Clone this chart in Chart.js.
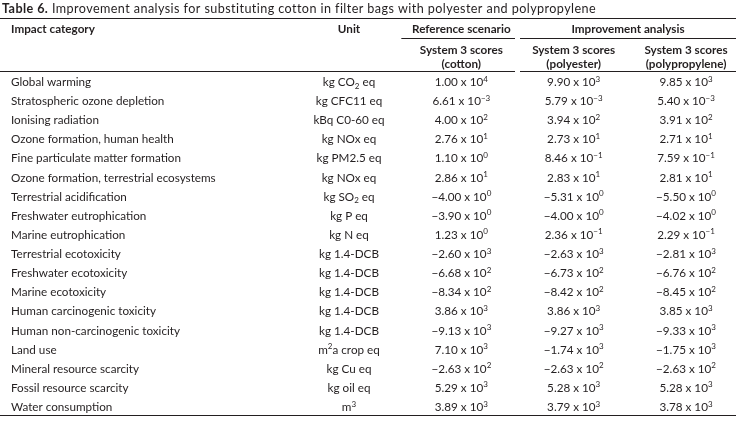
<!DOCTYPE html>
<html>
<head>
<meta charset="utf-8">
<script src="https://cdn.jsdelivr.net/npm/chart.js@4/dist/chart.umd.min.js"></script>
<style>
  html, body { margin: 0; padding: 0; background: #ffffff; }
  #wrap { width: 736px; height: 424px; position: relative; }
</style>
</head>
<body>
<div id="wrap"><canvas id="c" width="736" height="424"></canvas></div>
<script>
// ---------- DATA ----------
const titleBold = "Table 6.";
const titleText = " Improvement analysis for substituting cotton in filter bags with polyester and polypropylene";

const categories = [
  "Global warming",
  "Stratospheric ozone depletion",
  "Ionising radiation",
  "Ozone formation, human health",
  "Fine particulate matter formation",
  "Ozone formation, terrestrial ecosystems",
  "Terrestrial acidification",
  "Freshwater eutrophication",
  "Marine eutrophication",
  "Terrestrial ecotoxicity",
  "Freshwater ecotoxicity",
  "Marine ecotoxicity",
  "Human carcinogenic toxicity",
  "Human non-carcinogenic toxicity",
  "Land use",
  "Mineral resource scarcity",
  "Fossil resource scarcity",
  "Water consumption"
];

const units = [
  "kg CO_{2} eq",
  "kg CFC11 eq",
  "kBq C0-60 eq",
  "kg NOx eq",
  "kg PM2.5 eq",
  "kg NOx eq",
  "kg SO_{2} eq",
  "kg P eq",
  "kg N eq",
  "kg 1.4-DCB",
  "kg 1.4-DCB",
  "kg 1.4-DCB",
  "kg 1.4-DCB",
  "kg 1.4-DCB",
  "m^{2}a crop eq",
  "kg Cu eq",
  "kg oil eq",
  "m^{3}"
];

const cottonScores = [1.00e4, 6.61e-3, 4.00e2, 2.76e1, 1.10e0, 2.86e1, -4.00e0, -3.90e0, 1.23e0,
  -2.60e3, -6.68e2, -8.34e2, 3.86e3, -9.13e3, 7.10e3, -2.63e2, 5.29e3, 3.89e3];
const polyesterScores = [9.90e3, 5.79e-3, 3.94e2, 2.73e1, 8.46e-1, 2.83e1, -5.31e0, -4.00e0, 2.36e-1,
  -2.63e3, -6.73e2, -8.42e2, 3.86e3, -9.27e3, -1.74e3, -2.63e2, 5.28e3, 3.79e3];
const polypropyleneScores = [9.85e3, 5.40e-3, 3.91e2, 2.71e1, 7.59e-1, 2.81e1, -5.50e0, -4.02e0, 2.29e-1,
  -2.81e3, -6.76e2, -8.45e2, 3.85e3, -9.33e3, -1.75e3, -2.63e2, 5.28e3, 3.78e3];

const headImpact = "Impact category";
const headUnit = "Unit";
const groupRef = "Reference scenario";
const groupImp = "Improvement analysis";
const colHeads = [
  ["System 3 scores", "(cotton)"],
  ["System 3 scores", "(polyester)"],
  ["System 3 scores", "(polypropylene)"]
];

// ---------- STYLE / LAYOUT ----------
const INK = "#231f20";
const FONT = "Lato, 'Noto Sans', sans-serif";
const FS = 11.7;
const FS_TITLE = 12.6;
const FS_SCRIPT = 8;

function fmtSci(v) {
  const s = v.toExponential(2);
  const [m, e] = s.split("e");
  const mant = m.replace("-", "\u2212");
  const exp = String(parseInt(e, 10)).replace("-", "\u2212");
  return [{ t: mant + " x 10", s: 0 }, { t: exp, s: 1 }];
}

function parseRich(str) {
  const out = [];
  const re = /(\^|_)\{([^}]*)\}/g;
  let last = 0, m;
  while ((m = re.exec(str)) !== null) {
    if (m.index > last) out.push({ t: str.slice(last, m.index), s: 0 });
    out.push({ t: m[2], s: m[1] === "^" ? 1 : -1 });
    last = re.lastIndex;
  }
  if (last < str.length) out.push({ t: str.slice(last), s: 0 });
  return out;
}

function drawRich(ctx, segs, x, y, align, bold) {
  const w = bold ? "bold " : "";
  const fontFor = (s) => s === 0 ? `${w}${FS}px ${FONT}` : `${w}${FS_SCRIPT}px ${FONT}`;
  let total = 0;
  segs.forEach(sg => { ctx.font = fontFor(sg.s); total += ctx.measureText(sg.t).width; });
  let cx = align === "center" ? x - total / 2 : align === "right" ? x - total : x;
  ctx.textAlign = "left";
  ctx.textBaseline = "alphabetic";
  segs.forEach(sg => {
    ctx.font = fontFor(sg.s);
    const dy = sg.s === 1 ? -4.5 : sg.s === -1 ? 2.5 : 0;
    ctx.fillText(sg.t, cx, y + dy);
    cx += ctx.measureText(sg.t).width;
  });
}

function hline(ctx, x1, x2, y, lw) {
  ctx.beginPath();
  ctx.lineWidth = lw;
  ctx.strokeStyle = INK;
  ctx.moveTo(x1, y);
  ctx.lineTo(x2, y);
  ctx.stroke();
}

const tablePlugin = {
  id: "tablePlugin",
  afterDraw(chart) {
    const ctx = chart.ctx;
    const xs = chart.scales.x, ys = chart.scales.y;
    const W = chart.width;
    ctx.save();
    ctx.fillStyle = INK;

    // title
    ctx.textBaseline = "alphabetic";
    ctx.textAlign = "left";
    if ("letterSpacing" in ctx) ctx.letterSpacing = "0.42px";
    ctx.font = `bold ${FS_TITLE}px ${FONT}`;
    ctx.fillText(titleBold, 2, 13);
    const tw = ctx.measureText(titleBold).width;
    ctx.font = `${FS_TITLE}px ${FONT}`;
    ctx.fillText(titleText, 2 + tw, 13);
    if ("letterSpacing" in ctx) ctx.letterSpacing = "0px";

    // rules
    hline(ctx, 0, W, 18.5, 1.2);
    const xRef = xs.getPixelForValue(2);
    const xPoly = xs.getPixelForValue(3);
    const xPp = xs.getPixelForValue(4);
    const splitL = (xRef + xPoly) / 2 - 2.5;
    const splitR = (xRef + xPoly) / 2 + 2.5;
    hline(ctx, xRef - 60, splitL, 38.5, 1.2);
    hline(ctx, splitR, W, 38.5, 1.2);
    hline(ctx, 0, splitL, 71.5, 1.2);
    hline(ctx, splitR, W, 71.5, 1.2);
    const yLast = ys.getPixelForValue(categories.length - 1);
    hline(ctx, 0, W, yLast + 8.5, 1.2);

    // headers
    const xUnit = xs.getPixelForValue(1);
    drawRich(ctx, [{ t: headImpact, s: 0 }], 11, 33, "left", true);
    drawRich(ctx, [{ t: headUnit, s: 0 }], xUnit, 33, "center", true);
    drawRich(ctx, [{ t: groupRef, s: 0 }], xRef, 33, "center", true);
    drawRich(ctx, [{ t: groupImp, s: 0 }], (splitR + W) / 2, 33, "center", true);
    const headX = [xRef, xPoly, xPp];
    colHeads.forEach((h, i) => {
      drawRich(ctx, [{ t: h[0], s: 0 }], headX[i], 53.5, "center", true);
      drawRich(ctx, [{ t: h[1], s: 0 }], headX[i], 67.5, "center", true);
    });

    // rows
    categories.forEach((c, i) => {
      const y = ys.getPixelForValue(i) + 4;
      drawRich(ctx, [{ t: c, s: 0 }], 11, y, "left", false);
      drawRich(ctx, parseRich(units[i]), xUnit, y, "center", false);
    });

    // values from dataset elements
    chart.data.datasets.forEach((ds, di) => {
      const meta = chart.getDatasetMeta(di);
      meta.data.forEach((el, i) => {
        drawRich(ctx, fmtSci(ds.values[i]), el.x, el.y + 4, "center", false);
      });
    });
    ctx.restore();
  }
};

const series = [cottonScores, polyesterScores, polypropyleneScores];
const datasets = series.map((vals, k) => ({
  label: colHeads[k][1],
  values: vals,
  data: vals.map((v, i) => ({ x: k + 2, y: i })),
  pointRadius: 0,
  pointHoverRadius: 0
}));

new Chart(document.getElementById("c"), {
  type: "scatter",
  data: { datasets },
  options: {
    responsive: false,
    animation: false,
    devicePixelRatio: 1,
    events: [],
    layout: { padding: { left: 349, right: 50, top: 82, bottom: 17 } },
    plugins: { legend: { display: false }, tooltip: { enabled: false }, title: { display: false } },
    scales: {
      x: { type: "linear", display: false, min: 1, max: 4 },
      y: { type: "linear", display: false, min: 0, max: categories.length - 1, reverse: true }
    }
  },
  plugins: [tablePlugin]
});
</script>
</body>
</html>
